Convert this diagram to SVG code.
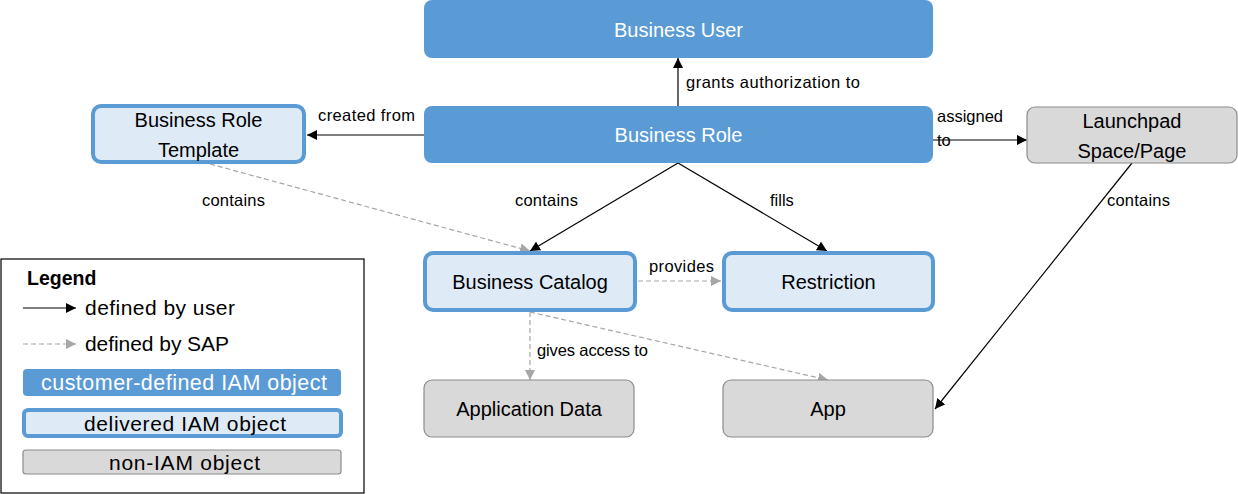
<svg xmlns="http://www.w3.org/2000/svg" width="1238" height="494" viewBox="0 0 1238 494">
<defs>
<style>
text{font-family:"Liberation Sans",Arial,sans-serif;}
.cust{fill:#5B9BD5;}
.deliv{fill:#DEEBF7;stroke:#5B9BD5;stroke-width:4;}
.non{fill:#D9D9D9;stroke:#8C8C8C;stroke-width:1.2;}
.nt{font-size:20px;fill:#000;text-anchor:middle;}
.wt{font-size:20px;fill:#fff;text-anchor:middle;}
.lbl{font-size:16.5px;fill:#000;}
.user{stroke:#000;stroke-width:1.2;fill:none;marker-end:url(#ab);}
.sap{stroke:#A6A6A6;stroke-width:1.2;fill:none;stroke-dasharray:5,3;marker-end:url(#ag);}
</style>
<marker id="ab" viewBox="0 0 10 10" refX="10" refY="5" markerWidth="10" markerHeight="10" markerUnits="userSpaceOnUse" orient="auto"><path d="M0,0 L10,5 L0,10 z" fill="#000"/></marker>
<marker id="ag" viewBox="0 0 10 10" refX="10" refY="5" markerWidth="10" markerHeight="10" markerUnits="userSpaceOnUse" orient="auto"><path d="M0,0 L10,5 L0,10 z" fill="#A6A6A6"/></marker>
</defs>
<rect width="1238" height="494" fill="#fff"/>

<g id="connectors">
<line class="user" x1="678" y1="106" x2="678" y2="58"/>
<line class="user" x1="424" y1="135" x2="307" y2="135"/>
<line class="user" x1="933" y1="140" x2="1027" y2="140"/>
<line class="user" x1="678" y1="163" x2="530" y2="251"/>
<line class="user" x1="678" y1="163" x2="827" y2="251"/>
<line class="user" x1="1132" y1="163" x2="935" y2="409"/>
<line class="sap" x1="210" y1="164" x2="530" y2="251"/>
<line class="sap" x1="638" y1="281" x2="721" y2="281"/>
<line class="sap" x1="530" y1="312" x2="530" y2="380"/>
<line class="sap" x1="530" y1="312" x2="828" y2="380"/>
<text class="lbl" x="686" y="88" textLength="174">grants authorization to</text>
<text class="lbl" x="318" y="121" textLength="97">created from</text>
<text class="lbl" x="937" y="122" textLength="66">assigned</text>
<text class="lbl" x="937" y="146">to</text>
<text class="lbl" x="202" y="206" textLength="63">contains</text>
<text class="lbl" x="515" y="206" textLength="63">contains</text>
<text class="lbl" x="770" y="206">fills</text>
<text class="lbl" x="1107" y="206" textLength="63">contains</text>
<text class="lbl" x="649" y="272" textLength="65">provides</text>
<text class="lbl" x="537" y="356" textLength="111">gives access to</text>
</g>

<g id="business-user">
<rect class="cust" x="424" y="0" width="509" height="58" rx="8"/>
<text class="wt" x="678.5" y="37">Business User</text>
</g>
<g id="business-role">
<rect class="cust" x="424" y="106" width="509" height="57" rx="8"/>
<text class="wt" x="678.5" y="142">Business Role</text>
</g>
<g id="business-role-template">
<rect class="deliv" x="93" y="106" width="211" height="56" rx="8"/>
<text class="nt" x="198.5" y="127">Business Role</text>
<text class="nt" x="198.5" y="157">Template</text>
</g>
<g id="launchpad">
<rect class="non" x="1027" y="107" width="210" height="56" rx="8"/>
<text class="nt" x="1132" y="128">Launchpad</text>
<text class="nt" x="1132" y="158">Space/Page</text>
</g>
<g id="business-catalog">
<rect class="deliv" x="425" y="253" width="210" height="57" rx="8"/>
<text class="nt" x="530" y="289">Business Catalog</text>
</g>
<g id="restriction">
<rect class="deliv" x="724" y="253" width="209" height="57" rx="8"/>
<text class="nt" x="828.5" y="289">Restriction</text>
</g>
<g id="application-data">
<rect class="non" x="424" y="380" width="210" height="57" rx="8"/>
<text class="nt" x="529" y="416">Application Data</text>
</g>
<g id="app">
<rect class="non" x="723" y="380" width="210" height="57" rx="8"/>
<text class="nt" x="828" y="416">App</text>
</g>

<g id="legend">
<rect x="1" y="259" width="363" height="234" fill="#fff" stroke="#000" stroke-width="1.2"/>
<text x="27" y="285" font-size="19.5" font-weight="bold" fill="#000">Legend</text>
<line class="user" x1="23" y1="308" x2="76" y2="308"/>
<text x="85" y="315" font-size="21" fill="#000" textLength="150">defined by user</text>
<line class="sap" x1="23" y1="344" x2="76" y2="344"/>
<text x="85" y="351" font-size="21" fill="#000" textLength="144">defined by SAP</text>
<rect class="cust" x="23" y="369" width="318" height="27" rx="4"/>
<text x="41" y="390" font-size="21.5" fill="#fff" textLength="286">customer-defined IAM object</text>
<rect class="deliv" x="24" y="410" width="317" height="26" rx="4"/>
<text x="84" y="431" font-size="21" fill="#000" textLength="202">delivered IAM object</text>
<rect class="non" x="23" y="450" width="318" height="24" rx="3"/>
<text x="109" y="470" font-size="21" fill="#000" textLength="151">non-IAM object</text>
</g>
</svg>
